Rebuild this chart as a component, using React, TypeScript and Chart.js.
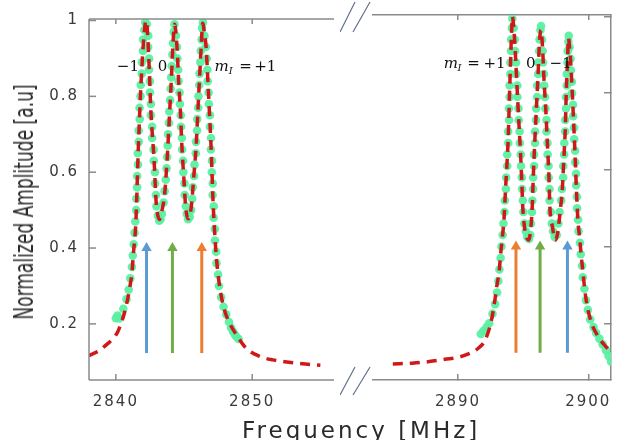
import React, { useEffect, useLayoutEffect, useRef } from 'react';
import { Chart, registerables } from 'chart.js';

Chart.register(...registerables);

// ---------- data ----------
const yTicks = [0.2, 0.4, 0.6, 0.8, 1.0];
const yRange = [0.052, 1.004];
const leftRange = [2838.03, 2856.0];
const rightRange = [2883.48, 2901.74];
const leftTicks = [2840, 2850];
const rightTicks = [2890, 2900];

// Lorentzian fit (red dashed), [MHz, amplitude]
const fitLeft: [number, number][] = [
  [2838.0, 0.116], [2838.8, 0.13], [2839.4, 0.148], [2839.8, 0.161], [2840.15, 0.18], [2840.42, 0.205],
  [2840.73, 0.243], [2841.02, 0.296], [2841.19, 0.339], [2841.28, 0.383], [2841.39, 0.426], [2841.47, 0.47],
  [2841.53, 0.53], [2841.59, 0.6], [2841.65, 0.665], [2841.72, 0.73], [2841.8, 0.8], [2841.9, 0.87],
  [2842.0, 0.93], [2842.1, 0.975], [2842.2, 1.0], [2842.3, 0.98], [2842.41, 0.905], [2842.48, 0.843],
  [2842.55, 0.775], [2842.65, 0.712], [2842.77, 0.652], [2842.85, 0.6], [2842.92, 0.54], [2843.03, 0.496],
  [2843.2, 0.475], [2843.36, 0.496], [2843.5, 0.52], [2843.6, 0.55], [2843.7, 0.6], [2843.82, 0.67],
  [2843.94, 0.756], [2844.07, 0.843], [2844.18, 0.93], [2844.31, 0.99], [2844.42, 0.96], [2844.5, 0.92],
  [2844.6, 0.843], [2844.74, 0.756], [2844.84, 0.671], [2844.99, 0.582], [2845.09, 0.522], [2845.16, 0.496],
  [2845.28, 0.477], [2845.45, 0.488], [2845.57, 0.522], [2845.72, 0.59], [2845.89, 0.67], [2846.01, 0.756],
  [2846.13, 0.843], [2846.26, 0.931], [2846.37, 0.993], [2846.5, 0.965], [2846.62, 0.93], [2846.75, 0.84],
  [2846.87, 0.752], [2846.98, 0.67], [2847.05, 0.6], [2847.12, 0.53], [2847.2, 0.47], [2847.35, 0.385],
  [2847.5, 0.33], [2847.65, 0.29], [2847.9, 0.245], [2848.3, 0.205], [2848.9, 0.168], [2849.5, 0.138],
  [2850.5, 0.115], [2851.5, 0.105], [2852.7, 0.099], [2853.9, 0.094], [2855.0, 0.091],
];

const fitRight: [number, number][] = [
  [2885.0, 0.094], [2886.5, 0.096], [2887.8, 0.1], [2889.0, 0.106], [2890.0, 0.111], [2890.8, 0.12],
  [2891.6, 0.136], [2892.1, 0.157], [2892.55, 0.205], [2892.8, 0.253], [2892.97, 0.295], [2893.17, 0.339],
  [2893.28, 0.383], [2893.41, 0.425], [2893.53, 0.47], [2893.65, 0.55], [2893.75, 0.61], [2893.84, 0.67],
  [2893.9, 0.73], [2893.95, 0.79], [2894.0, 0.845], [2894.05, 0.895], [2894.1, 0.948], [2894.18, 1.0],
  [2894.28, 0.97], [2894.33, 0.948], [2894.44, 0.879], [2894.57, 0.791], [2894.69, 0.713], [2894.8, 0.644],
  [2894.9, 0.566], [2894.97, 0.504], [2895.1, 0.452], [2895.25, 0.425], [2895.43, 0.417], [2895.6, 0.452],
  [2895.7, 0.504], [2895.78, 0.582], [2895.89, 0.67], [2896.01, 0.756], [2896.14, 0.843], [2896.25, 0.931],
  [2896.36, 0.965], [2896.44, 0.945], [2896.5, 0.913], [2896.59, 0.843], [2896.74, 0.756], [2896.86, 0.67],
  [2896.98, 0.582], [2897.05, 0.504], [2897.25, 0.452], [2897.46, 0.417], [2897.62, 0.43], [2897.75, 0.462],
  [2897.88, 0.504], [2897.99, 0.54], [2898.12, 0.626], [2898.24, 0.713], [2898.31, 0.801], [2898.41, 0.887],
  [2898.48, 0.944], [2898.56, 0.92], [2898.64, 0.887], [2898.77, 0.801], [2898.89, 0.713], [2899.0, 0.626],
  [2899.1, 0.54], [2899.2, 0.47], [2899.33, 0.425], [2899.44, 0.383], [2899.57, 0.339], [2899.8, 0.269],
  [2900.17, 0.209], [2900.78, 0.164], [2901.38, 0.138], [2901.85, 0.122],
];

// measured data (green dots)
const dotsLeft: [number, number][] = [
  [2840.0, 0.215], [2840.12, 0.222], [2840.25, 0.214], [2840.55, 0.24], [2840.78, 0.265], [2840.94, 0.29],
  [2841.06, 0.32], [2841.18, 0.35], [2841.24, 0.38], [2841.31, 0.41], [2841.37, 0.44], [2841.43, 0.47],
  [2841.49, 0.5], [2841.5, 0.53], [2841.56, 0.56], [2841.56, 0.59], [2841.62, 0.62], [2841.61, 0.65],
  [2841.68, 0.68], [2841.67, 0.71], [2841.75, 0.74], [2841.74, 0.77], [2841.81, 0.8], [2841.82, 0.83],
  [2841.9, 0.86], [2841.91, 0.89], [2841.99, 0.92], [2842.0, 0.95], [2842.09, 0.975], [2842.16, 0.995],
  [2842.27, 0.99], [2842.38, 0.96], [2842.37, 0.93], [2842.44, 0.9], [2842.43, 0.87], [2842.5, 0.84],
  [2842.5, 0.81], [2842.57, 0.78], [2842.57, 0.75], [2842.66, 0.72], [2842.66, 0.69], [2842.77, 0.66],
  [2842.78, 0.63], [2842.87, 0.6], [2842.87, 0.57], [2842.94, 0.54], [2842.98, 0.51], [2843.08, 0.485],
  [2843.18, 0.472], [2843.28, 0.476],
  [2843.38, 0.49], [2843.5, 0.52], [2843.58, 0.55], [2843.66, 0.58], [2843.72, 0.61], [2843.76, 0.64],
  [2843.8, 0.67], [2843.83, 0.7], [2843.89, 0.73], [2843.92, 0.76], [2843.98, 0.79], [2844.02, 0.82],
  [2844.06, 0.85], [2844.1, 0.88], [2844.15, 0.91], [2844.19, 0.94], [2844.24, 0.97], [2844.3, 0.99],
  [2844.4, 0.96], [2844.48, 0.93], [2844.51, 0.9], [2844.57, 0.87], [2844.6, 0.84], [2844.67, 0.81],
  [2844.7, 0.78], [2844.76, 0.75], [2844.78, 0.72], [2844.84, 0.69], [2844.86, 0.66], [2844.93, 0.63],
  [2844.95, 0.6], [2845.03, 0.57], [2845.05, 0.54], [2845.13, 0.51], [2845.2, 0.49], [2845.3, 0.476],
  [2845.42, 0.482], [2845.52, 0.5], [2845.6, 0.53], [2845.64, 0.56], [2845.74, 0.59], [2845.77, 0.62],
  [2845.86, 0.65], [2845.88, 0.68], [2845.96, 0.71], [2845.97, 0.74], [2846.04, 0.77], [2846.06, 0.8],
  [2846.12, 0.83], [2846.14, 0.86], [2846.2, 0.89], [2846.23, 0.92], [2846.29, 0.95], [2846.32, 0.98],
  [2846.39, 0.995],
  [2846.5, 0.96], [2846.6, 0.93], [2846.66, 0.9], [2846.71, 0.87], [2846.73, 0.84], [2846.8, 0.81],
  [2846.82, 0.78], [2846.9, 0.75], [2846.9, 0.72], [2846.98, 0.69], [2846.97, 0.66], [2847.05, 0.63],
  [2847.04, 0.6], [2847.11, 0.57], [2847.1, 0.54], [2847.18, 0.51], [2847.17, 0.48], [2847.26, 0.45],
  [2847.27, 0.42], [2847.36, 0.39], [2847.38, 0.36], [2847.5, 0.33], [2847.56, 0.3], [2847.72, 0.27],
  [2847.9, 0.245], [2848.1, 0.225], [2848.3, 0.205], [2848.45, 0.19], [2848.6, 0.18], [2848.72, 0.172],
  [2848.85, 0.166], [2849.0, 0.16],
];

const dotsRight: [number, number][] = [
  [2891.75, 0.172], [2891.95, 0.18], [2892.2, 0.19], [2892.4, 0.2], [2892.65, 0.225], [2892.85, 0.25],
  [2893.0, 0.28], [2893.1, 0.31], [2893.18, 0.34], [2893.27, 0.37], [2893.34, 0.4], [2893.43, 0.43],
  [2893.49, 0.46], [2893.57, 0.49], [2893.6, 0.52], [2893.68, 0.55], [2893.7, 0.58], [2893.78, 0.61],
  [2893.78, 0.64], [2893.86, 0.67], [2893.85, 0.7], [2893.92, 0.73], [2893.91, 0.76], [2893.97, 0.79],
  [2893.96, 0.82], [2894.02, 0.85], [2894.02, 0.88], [2894.07, 0.91], [2894.08, 0.94], [2894.13, 0.97],
  [2894.17, 0.995],
  [2894.28, 0.97], [2894.36, 0.94], [2894.38, 0.91], [2894.46, 0.88], [2894.47, 0.85], [2894.55, 0.82],
  [2894.56, 0.79], [2894.64, 0.76], [2894.66, 0.73], [2894.73, 0.7], [2894.75, 0.67], [2894.82, 0.64],
  [2894.84, 0.61], [2894.9, 0.58], [2894.92, 0.55], [2894.98, 0.52], [2895.02, 0.49], [2895.1, 0.46],
  [2895.2, 0.44], [2895.32, 0.425], [2895.45, 0.42],
  [2895.55, 0.43], [2895.6, 0.46], [2895.68, 0.49], [2895.71, 0.52], [2895.77, 0.55], [2895.77, 0.58],
  [2895.84, 0.61], [2895.84, 0.64], [2895.91, 0.67], [2895.92, 0.7], [2895.99, 0.73], [2896.0, 0.76],
  [2896.07, 0.79], [2896.08, 0.82], [2896.15, 0.85], [2896.16, 0.88], [2896.23, 0.91], [2896.26, 0.94],
  [2896.33, 0.965], [2896.38, 0.975],
  [2896.44, 0.94], [2896.5, 0.91], [2896.53, 0.88], [2896.6, 0.85], [2896.62, 0.82], [2896.68, 0.79],
  [2896.71, 0.76], [2896.79, 0.73], [2896.8, 0.7], [2896.87, 0.67], [2896.88, 0.64], [2896.95, 0.61],
  [2896.96, 0.58], [2897.02, 0.55], [2897.03, 0.52], [2897.12, 0.49], [2897.2, 0.46], [2897.3, 0.44],
  [2897.42, 0.425],
  [2897.58, 0.43], [2897.7, 0.46], [2897.8, 0.49], [2897.92, 0.52], [2897.98, 0.55], [2898.07, 0.58],
  [2898.08, 0.61], [2898.15, 0.64], [2898.16, 0.67], [2898.23, 0.7], [2898.23, 0.73], [2898.29, 0.76],
  [2898.29, 0.79], [2898.35, 0.82], [2898.35, 0.85], [2898.41, 0.88], [2898.42, 0.91], [2898.47, 0.935],
  [2898.5, 0.95],
  [2898.56, 0.92], [2898.64, 0.89], [2898.66, 0.86], [2898.74, 0.83], [2898.75, 0.8], [2898.83, 0.77],
  [2898.84, 0.74], [2898.91, 0.71], [2898.92, 0.68], [2898.99, 0.65], [2899.0, 0.62], [2899.06, 0.59],
  [2899.07, 0.56], [2899.13, 0.53], [2899.14, 0.5], [2899.22, 0.47], [2899.25, 0.44], [2899.36, 0.41],
  [2899.42, 0.38], [2899.52, 0.35], [2899.58, 0.32], [2899.7, 0.29], [2899.82, 0.26], [2899.97, 0.235],
  [2900.15, 0.21], [2900.4, 0.19], [2900.6, 0.175], [2900.85, 0.16], [2901.1, 0.145], [2901.35, 0.13],
  [2901.55, 0.115], [2901.75, 0.1],
];

// transition arrows
const arrowsLeftX = [2842.25, 2844.15, 2846.3];
const arrowsRightX = [2894.45, 2896.3, 2898.4];
const arrowBase = 0.123;
const arrowTip = 0.4;

// m_I labels: text and x position (MHz)
const labelsLeft = [
  { t: '−1', x: 2840.07 }, { t: '0', x: 2843.07 }, { t: 'm', x: 2847.23, it: true },
  { t: 'I', x: 2848.28, it: true, sub: true }, { t: '=', x: 2849.05 }, { t: '+1', x: 2850.15 },
];
const labelsRight = [
  { t: 'm', x: 2888.91, it: true }, { t: 'I', x: 2889.96, it: true, sub: true }, { t: '=', x: 2890.72 },
  { t: '+1', x: 2891.96 }, { t: '0', x: 2895.22 }, { t: '−1', x: 2897.03 },
];
const labelBaseline = 0.866;

// ---------- styles ----------
const BLUE = '#5B9BD5';
const GREEN = '#70AD47';
const ORANGE = '#ED7D31';
const RED = '#D01818';
const DOT = 'rgba(88, 240, 162, 0.95)';
const AXIS = '#8a8a8a';
const TICKFONT = "'DejaVu Sans', Verdana, sans-serif";
const LEFT_W = 340;
const RIGHT_W = 288;

// left panel frame (drawn after the chart through its scales)
function drawLeftFrame(chart: any) {
  const ctx = chart.ctx;
  const sx = chart.scales.x;
  const sy = chart.scales.y;
  const L = sx.getPixelForValue(leftRange[0]);
  const R = sx.getPixelForValue(leftRange[1]);
  const T = sy.getPixelForValue(yRange[1]);
  const B = sy.getPixelForValue(yRange[0]);
  ctx.save();
  ctx.setLineDash([]);
  ctx.strokeStyle = AXIS;
  ctx.lineWidth = 1.5;
  const seg = (x1: number, y1: number, x2: number, y2: number) => {
    ctx.beginPath();
    ctx.moveTo(x1, y1);
    ctx.lineTo(x2, y2);
    ctx.stroke();
  };
  seg(L, T, R, T);
  seg(L, B, R, B);
  seg(L, T, L, B);
  for (const v of leftTicks) {
    const px = sx.getPixelForValue(v);
    seg(px, B, px, B - 6);
    seg(px, T, px, T + 5);
  }
  for (const v of yTicks) {
    const py = sy.getPixelForValue(v);
    seg(L, py, L + 7, py);
  }
  ctx.restore();
}

// axis-break marks, drawn on the right panel just left of its plot area
function drawBreakMarks(chart: any) {
  const ctx = chart.ctx;
  const sx = chart.scales.x;
  const sy = chart.scales.y;
  const L = sx.getPixelForValue(rightRange[0]);
  const T = sy.getPixelForValue(yRange[1]);
  const B = sy.getPixelForValue(yRange[0]);
  ctx.save();
  ctx.setLineDash([]);
  ctx.strokeStyle = '#62708c';
  ctx.lineWidth = 1.2;
  for (const [x0, x1] of [[33, 18], [20, 3]]) {
    ctx.beginPath();
    ctx.moveTo(L - x0, T + 17); ctx.lineTo(L - x1, T - 13);
    ctx.moveTo(L - x0, B + 15); ctx.lineTo(L - x1, B - 13);
    ctx.stroke();
  }
  ctx.restore();
}

function makePlugins(side: 'left' | 'right', tokens: any[]) {
  const spacing = {
    id: 'spacing_' + side,
    beforeDraw(chart: any) {
      (chart.ctx as any).letterSpacing = '2px';
    },
  };
  const overlay = {
    id: 'overlay_' + side,
    afterDatasetsDraw(chart: any) {
      const ctx = chart.ctx;
      const scales = chart.scales;
      ctx.save();
      (ctx as any).letterSpacing = '0px';
      ctx.fillStyle = '#111';
      ctx.textAlign = 'left';
      ctx.textBaseline = 'alphabetic';
      const by = scales.y.getPixelForValue(labelBaseline);
      for (const tk of tokens) {
        ctx.font = `${tk.it ? 'italic ' : ''}${tk.sub ? 10 : 15}px 'DejaVu Serif', 'Liberation Serif', serif`;
        ctx.fillText(tk.t, scales.x.getPixelForValue(tk.x), by + (tk.sub ? 3 : 0));
      }
      ctx.restore();
    },
    afterDraw(chart: any) {
      try {
        if (side === 'left') drawLeftFrame(chart);
        else drawBreakMarks(chart);
      } catch (e) {
        // ignore
      }
    },
  };
  return [spacing, overlay];
}

const tickFont = { family: TICKFONT, size: 15 };

function leftScales(): any {
  return {
    x: {
      type: 'linear',
      position: 'bottom',
      min: leftRange[0],
      max: leftRange[1],
      afterBuildTicks: (s: any) => { s.ticks = leftTicks.map((v) => ({ value: v })); },
      afterFit: (s: any) => { s.height = 60; },
      grid: { display: false, drawTicks: false },
      border: { display: false },
      ticks: { padding: 13, autoSkip: false, maxRotation: 0, color: '#3a3a3a', font: tickFont, callback: (v: any) => String(v) },
    },
    y: {
      type: 'linear',
      position: 'left',
      min: yRange[0],
      max: yRange[1],
      afterBuildTicks: (s: any) => { s.ticks = yTicks.map((v) => ({ value: v })); },
      afterFit: (s: any) => { s.width = 89; },
      grid: { display: false, drawTicks: false },
      border: { display: false },
      ticks: {
        padding: 10,
        color: '#3a3a3a',
        font: tickFont,
        callback: (v: any) => (v === 1 ? '1' : Number(v).toFixed(1)),
      },
    },
  };
}

// right panel: frame drawn natively by Chart.js (borders + inward tick marks)
function rightScales(): any {
  const gridTicks = (len: number) => ({
    display: true,
    drawOnChartArea: false,
    drawTicks: true,
    tickLength: len,
    color: AXIS,
    lineWidth: 1.5,
  });
  const border = { display: true, color: AXIS, width: 1.5 };
  return {
    x: {
      type: 'linear',
      position: 'bottom',
      min: rightRange[0],
      max: rightRange[1],
      afterBuildTicks: (s: any) => { s.ticks = rightTicks.map((v) => ({ value: v })); },
      afterFit: (s: any) => { s.height = 60; },
      grid: gridTicks(-6),
      border,
      ticks: { padding: 19, autoSkip: false, maxRotation: 0, color: '#3a3a3a', font: tickFont, callback: (v: any) => String(v) },
    },
    xTop: {
      type: 'linear',
      position: 'top',
      min: rightRange[0],
      max: rightRange[1],
      afterBuildTicks: (s: any) => { s.ticks = rightTicks.map((v) => ({ value: v })); },
      afterFit: (s: any) => { s.height = 0; },
      grid: gridTicks(-5),
      border,
      ticks: { display: false },
    },
    y: {
      type: 'linear',
      position: 'right',
      min: yRange[0],
      max: yRange[1],
      afterBuildTicks: (s: any) => { s.ticks = yTicks.map((v) => ({ value: v })); },
      afterFit: (s: any) => { s.width = 0; },
      grid: gridTicks(-7),
      border,
      ticks: { display: false },
    },
  };
}

function makeConfig(side: 'left' | 'right'): any {
  const isLeft = side === 'left';
  const fit = isLeft ? fitLeft : fitRight;
  const dots = isLeft ? dotsLeft : dotsRight;
  const arrowsX = isLeft ? arrowsLeftX : arrowsRightX;
  const arrowColors = isLeft ? [BLUE, GREEN, ORANGE] : [ORANGE, GREEN, BLUE];

  const datasets: any[] = [
    {
      label: 'fit',
      data: fit.map(([x, y]) => ({ x, y })),
      xAxisID: 'x',
      yAxisID: 'y',
      borderColor: RED,
      borderWidth: 3.5,
      borderDash: [10, 7],
      pointRadius: 0,
      cubicInterpolationMode: 'monotone',
      fill: false,
      order: 0,
    },
    {
      label: 'data',
      data: dots.map(([x, y]) => ({ x, y })),
      xAxisID: 'x',
      yAxisID: 'y',
      showLine: false,
      pointRadius: 4.3,
      pointBorderWidth: 0,
      pointBackgroundColor: DOT,
      pointBorderColor: DOT,
      order: 1,
    },
    ...arrowsX.map((x, i) => ({
      label: 'arrow' + i,
      data: [{ x, y: arrowBase }, { x, y: arrowTip }],
      xAxisID: 'x',
      yAxisID: 'y',
      borderColor: arrowColors[i],
      borderWidth: 3,
      pointRadius: [0, 6],
      pointStyle: 'triangle',
      pointBackgroundColor: arrowColors[i],
      pointBorderColor: arrowColors[i],
      pointBorderWidth: 0,
      order: 2,
    })),
  ];

  return {
    type: 'line',
    data: { datasets },
    plugins: makePlugins(side, isLeft ? labelsLeft : labelsRight),
    options: {
      responsive: false,
      animation: false,
      devicePixelRatio: 1,
      events: [],
      layout: {
        padding: isLeft
          ? { left: 0, right: LEFT_W - 335, top: 15, bottom: 0 }
          : { left: 373 - LEFT_W, right: 3, top: 15, bottom: 0 },
      },
      plugins: {
        legend: { display: false },
        tooltip: { enabled: false },
      },
      scales: isLeft ? leftScales() : rightScales(),
    },
  };
}

export default function App() {
  const leftRef = useRef<HTMLCanvasElement>(null);
  const rightRef = useRef<HTMLCanvasElement>(null);
  const yTitleRef = useRef<HTMLDivElement>(null);

  useLayoutEffect(() => {
    document.body.style.margin = '0';
    const el = yTitleRef.current;
    if (el) {
      const w = el.offsetWidth || 1;
      const s = 235 / w;
      el.style.transform = `translate(-50%, -50%) rotate(-90deg) scaleX(${s})`;
    }
  }, []);

  useEffect(() => {
    const c1 = new Chart(leftRef.current as HTMLCanvasElement, makeConfig('left'));
    const c2 = new Chart(rightRef.current as HTMLCanvasElement, makeConfig('right'));
    return () => {
      c1.destroy();
      c2.destroy();
    };
  }, []);

  return (
    <div style={{ position: 'relative', width: 628, height: 440, background: '#fff', overflow: 'hidden' }}>
      <canvas
        ref={leftRef}
        width={LEFT_W}
        height={440}
        style={{ position: 'absolute', left: 0, top: 0, width: LEFT_W, height: 440 }}
      />
      <canvas
        ref={rightRef}
        width={RIGHT_W}
        height={440}
        style={{ position: 'absolute', left: LEFT_W, top: 0, width: RIGHT_W, height: 440 }}
      />
      <div
        ref={yTitleRef}
        style={{
          position: 'absolute',
          left: 24,
          top: 202,
          whiteSpace: 'nowrap',
          font: "26px 'Liberation Sans Narrow', 'DejaVu Sans Condensed', 'Liberation Sans', sans-serif",
          lineHeight: '26px',
          color: '#2a2a2a',
          transform: 'translate(-50%, -50%) rotate(-90deg)',
        }}
      >
        Normalized Amplitude [a.u]
      </div>
      <div
        style={{
          position: 'absolute',
          left: 242,
          top: 417,
          whiteSpace: 'nowrap',
          font: "23px 'DejaVu Sans', Verdana, sans-serif",
          lineHeight: '26px',
          letterSpacing: '3px',
          color: '#2a2a2a',
        }}
      >
        Frequency [MHz]
      </div>
    </div>
  );
}
